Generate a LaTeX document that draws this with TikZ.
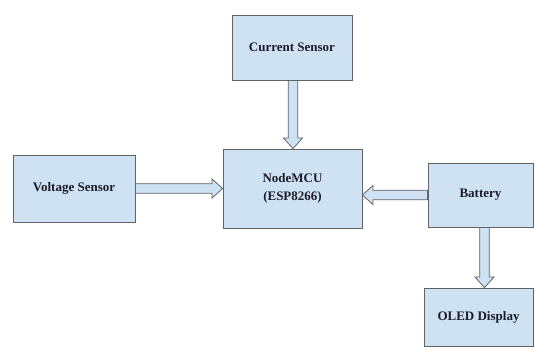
\documentclass[tikz,border=0pt]{standalone}
\usepackage{fontspec}
\setmainfont{Liberation Serif}
\usetikzlibrary{calc}
\definecolor{boxfill}{HTML}{CFE2F3}
\definecolor{boxline}{HTML}{5F6368}
\definecolor{txt}{HTML}{1C1C28}
\tikzset{
  blockbox/.style={draw=boxline, fill=boxfill, line width=0.9pt, rectangle, inner sep=0pt,
    text=txt, font=\fontsize{13}{18}\selectfont\bfseries, align=center},
  blockarrow/.style={draw=boxline, fill=boxfill, line width=0.8pt, line join=miter}
}
\newcommand\barrow[2]{%
  \coordinate (hs) at ($(#2)!10.5pt!(#1)$);
  \draw[blockarrow] ($(#1)!4.8pt!90:(#2)$) -- ($(hs)!4.8pt!-90:(#1)$) -- ($(hs)!9.5pt!-90:(#1)$)
    -- (#2) -- ($(hs)!9.5pt!90:(#1)$) -- ($(hs)!4.8pt!90:(#1)$) -- ($(#1)!4.8pt!-90:(#2)$) -- cycle;}
\begin{document}
\begin{tikzpicture}[x=1pt,y=-1pt]
\useasboundingbox (0,0) rectangle (535,349);
\node[blockbox, minimum width=120pt, minimum height=65pt] (cur) at (292,47.5) {Current Sensor};
\node[blockbox, minimum width=139pt, minimum height=79pt] (mcu) at (292.5,188.5) {NodeMCU\\(ESP8266)};
\node[blockbox, minimum width=122pt, minimum height=67pt] (volt) at (74,188.5) {Voltage Sensor};
\node[blockbox, minimum width=105pt, minimum height=64pt] (bat) at (480.5,195) {Battery};
\node[blockbox, minimum width=109pt, minimum height=58pt] (oled) at (478.5,317) {OLED Display};
\coordinate (c1) at ([xshift=1pt]cur.south);
\coordinate (c2) at (c1 |- mcu.north);
\barrow{c1}{c2}
\coordinate (v2) at (volt.east -| mcu.west);
\barrow{volt.east}{v2}
\coordinate (b2) at (bat.west -| mcu.east);
\barrow{bat.west}{b2}
\coordinate (d1) at ([xshift=4pt]bat.south);
\coordinate (d2) at (d1 |- oled.north);
\barrow{d1}{d2}
\end{tikzpicture}
\end{document}
